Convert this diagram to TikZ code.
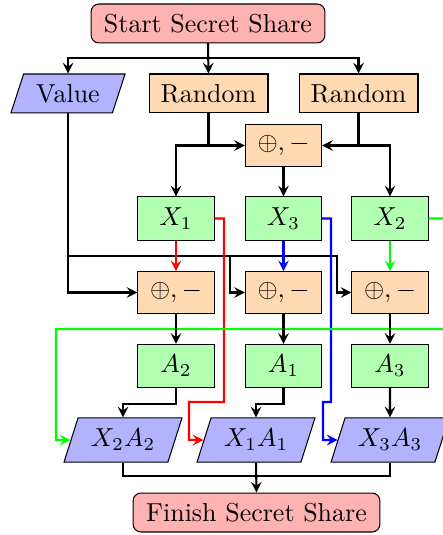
\documentclass[tikz,border=0pt]{standalone}
\usepackage{amsmath}
\usepackage{tikz}
\usetikzlibrary{arrows.meta, positioning, shapes.geometric}

\begin{document}
\begin{tikzpicture}[
  x=0.385pt, y=-0.385pt,
  every node/.style={align=center, inner sep=2pt},
  arrow/.style={thick, ->, >=stealth},
  link/.style={thick},
  terminal/.style={rectangle, rounded corners=3pt, draw, fill=red!30, minimum width=90pt, minimum height=15pt},
  data/.style={trapezium, trapezium left angle=70, trapezium right angle=110, trapezium stretches=true, draw, fill=blue!30, minimum height=15pt},
  calc/.style={rectangle, draw, fill=orange!30, minimum width=29.3pt, minimum height=16pt},
  share/.style={rectangle, draw, fill=green!30, minimum width=29.3pt, minimum height=16.6pt},
]
\useasboundingbox (0,0) rectangle (442,535);

% Start and inputs
\node[terminal] (start) at (208,23.5) {Start Secret Share};
\node[data, minimum width=44pt] (value) at (68,93.5) {Value};
\node[calc, minimum width=45.8pt, minimum height=15pt] (rand1) at (208.5,93.5) {Random};
\node[calc, minimum width=45.8pt, minimum height=15pt] (rand2) at (358.5,93.5) {Random};
\node[calc] (optop) at (283.5,145.5) {$\oplus, -$};

% Shares
\node[share] (x1) at (176,218.5) {$X_1$};
\node[share] (x3) at (283.5,218.5) {$X_3$};
\node[share] (x2) at (390,218.5) {$X_2$};

% Combine with value
\node[calc] (op1) at (176,292.5) {$\oplus, -$};
\node[calc] (op2) at (283.5,292.5) {$\oplus, -$};
\node[calc] (op3) at (390,292.5) {$\oplus, -$};

\node[share] (a2) at (176,366) {$A_2$};
\node[share] (a1) at (283.5,366) {$A_1$};
\node[share] (a3) at (390,366) {$A_3$};

% Output pairs
\node[data, minimum width=45.4pt, minimum height=17pt] (x2a2) at (123,440) {$X_2A_2$};
\node[data, minimum width=45.4pt, minimum height=17pt] (x1a1) at (256,440) {$X_1A_1$};
\node[data, minimum width=45.4pt, minimum height=17pt] (x3a3) at (390,440) {$X_3A_3$};

\node[terminal, minimum width=95pt] (finish) at (256.5,512.5) {Finish Secret Share};

% Helper points
\coordinate (s1) at (208,58);
\coordinate (r1) at (176,145.5);
\coordinate (r2) at (390,145.5);
\coordinate (v2) at (230,256);
\coordinate (v3) at (337,256);
\coordinate (red1) at (224,402);
\coordinate (red2) at (189,440);
\coordinate (blue1) at (331,402);
\coordinate (blue2) at (323,440);
\coordinate (green1) at (455,329);
\coordinate (green2) at (56,440);
\coordinate (f) at (256,476);

% Start branches
\draw[arrow] (start.south) -- (rand1.north);
\draw[arrow] (start.south) -- (s1) -| (value.north);
\draw[arrow] (start.south) -- (s1) -| (rand2.north);

% Random values
\draw[arrow] (rand1.south) |- (optop.west);
\draw[arrow] (rand2.south) |- (optop.east);
\draw[arrow] (rand1.south) |- (r1) -- (x1.north);
\draw[arrow] (rand2.south) |- (r2) -- (x2.north);
\draw[arrow] (optop.south) -- (x3.north);

% Value into each share
\draw[arrow] (value.south) |- (op1.west);
\draw[arrow] (value.south) |- (v2) |- (op2.west);
\draw[arrow] (value.south) |- (v3) |- (op3.west);

% Coloured share paths
\draw[arrow, red] (x1.south) -- (op1.north);
\draw[arrow, blue] (x3.south) -- (op2.north);
\draw[arrow, green] (x2.south) -- (op3.north);
\draw[arrow, red] (x1.east) -| (red1) -| (red2) -- (x1a1.west);
\draw[arrow, blue] (x3.east) -| (blue1) -| (blue2) -- (x3a3.west);
\draw[arrow, green] (x2.east) -| (green1) -| (green2) -- (x2a2.west);

\draw[arrow] (op1.south) -- (a2.north);
\draw[arrow] (op2.south) -- (a1.north);
\draw[arrow] (op3.south) -- (a3.north);

\draw[arrow] (a2.south) -- ++(0,16) -| (x2a2.north);
\draw[arrow] (a1.south) -- ++(0,16) -| (x1a1.north);
\draw[arrow] (a3.south) -- (x3a3.north);

% Finish
\draw[link] (x2a2.south) |- (f);
\draw[link] (x3a3.south) |- (f);
\draw[arrow] (x1a1.south) -- (finish.north);

\end{tikzpicture}
\end{document}
